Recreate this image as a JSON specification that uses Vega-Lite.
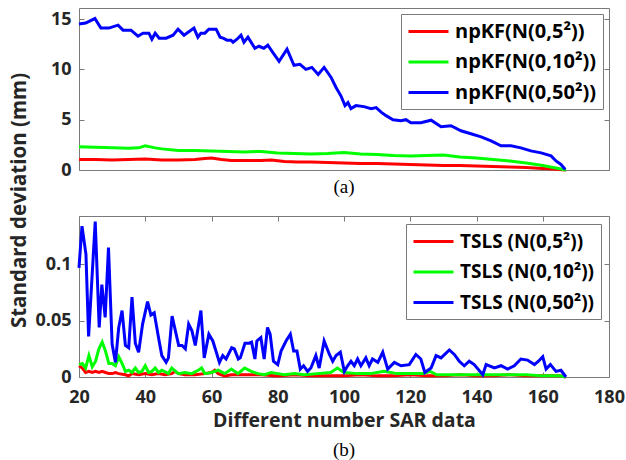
{
  "$schema": "https://vega.github.io/schema/vega-lite/v6.json",
  "background": "white",
  "padding": {"left": 8, "top": 7, "right": 5, "bottom": 5},
  "bounds": "flush",
  "spacing": 46,
  "config": {
    "view": {"stroke": "#7a7a7a", "strokeWidth": 1},
    "axis": {
      "domain": false, "grid": false,
      "labelFont": "Open Sans", "labelFontWeight": "bold", "labelFontSize": 18, "labelColor": "#262626",
      "labelFlush": false, "labelOverlap": false,
      "tickColor": "#7a7a7a", "tickSize": -5,
      "titleFont": "Open Sans", "titleFontWeight": "bold", "titleFontSize": 19.5, "titleColor": "#262626"
    },
    "legend": {
      "title": null, "orient": "top-right", "offset": 6, "padding": 6,
      "strokeColor": "#7a7a7a", "fillColor": "white",
      "symbolType": "M-2,0H2", "symbolSize": 400, "symbolStrokeWidth": 3, "symbolOffset": 10,
      "labelFont": "Open Sans", "labelFontWeight": "bold", "labelFontSize": 19, "labelColor": "black",
      "labelLimit": 300, "rowPadding": 8.5, "labelOffset": 15
    },
    "title": {"font": "Liberation Serif", "fontSize": 19, "fontWeight": "normal", "color": "black", "orient": "bottom"}
  },
  "resolve": {"scale": {"color": "independent"}},
  "datasets": {
    "top": [
      {"x":20,"y":1.05,"s":"npKF(N(0,5²))"},{"x":25,"y":1.05,"s":"npKF(N(0,5²))"},{"x":30,"y":1.0,"s":"npKF(N(0,5²))"},{"x":35,"y":1.05,"s":"npKF(N(0,5²))"},{"x":40,"y":1.1,"s":"npKF(N(0,5²))"},{"x":45,"y":1.0,"s":"npKF(N(0,5²))"},{"x":50,"y":1.0,"s":"npKF(N(0,5²))"},{"x":55,"y":1.05,"s":"npKF(N(0,5²))"},{"x":58,"y":1.15,"s":"npKF(N(0,5²))"},{"x":60,"y":1.2,"s":"npKF(N(0,5²))"},{"x":63,"y":1.05,"s":"npKF(N(0,5²))"},{"x":66,"y":0.95,"s":"npKF(N(0,5²))"},{"x":70,"y":0.95,"s":"npKF(N(0,5²))"},{"x":75,"y":0.95,"s":"npKF(N(0,5²))"},{"x":78,"y":1.0,"s":"npKF(N(0,5²))"},{"x":82,"y":0.85,"s":"npKF(N(0,5²))"},{"x":86,"y":0.8,"s":"npKF(N(0,5²))"},{"x":90,"y":0.8,"s":"npKF(N(0,5²))"},{"x":95,"y":0.75,"s":"npKF(N(0,5²))"},{"x":100,"y":0.7,"s":"npKF(N(0,5²))"},{"x":105,"y":0.65,"s":"npKF(N(0,5²))"},{"x":110,"y":0.65,"s":"npKF(N(0,5²))"},{"x":115,"y":0.6,"s":"npKF(N(0,5²))"},{"x":120,"y":0.55,"s":"npKF(N(0,5²))"},{"x":125,"y":0.5,"s":"npKF(N(0,5²))"},{"x":130,"y":0.45,"s":"npKF(N(0,5²))"},{"x":135,"y":0.45,"s":"npKF(N(0,5²))"},{"x":140,"y":0.4,"s":"npKF(N(0,5²))"},{"x":145,"y":0.35,"s":"npKF(N(0,5²))"},{"x":150,"y":0.3,"s":"npKF(N(0,5²))"},{"x":155,"y":0.25,"s":"npKF(N(0,5²))"},{"x":160,"y":0.15,"s":"npKF(N(0,5²))"},{"x":164,"y":0.08,"s":"npKF(N(0,5²))"},{"x":167,"y":0.0,"s":"npKF(N(0,5²))"},
      {"x":20,"y":2.3,"s":"npKF(N(0,10²))"},{"x":25,"y":2.25,"s":"npKF(N(0,10²))"},{"x":30,"y":2.2,"s":"npKF(N(0,10²))"},{"x":35,"y":2.15,"s":"npKF(N(0,10²))"},{"x":38,"y":2.2,"s":"npKF(N(0,10²))"},{"x":40,"y":2.4,"s":"npKF(N(0,10²))"},{"x":43,"y":2.2,"s":"npKF(N(0,10²))"},{"x":45,"y":2.1,"s":"npKF(N(0,10²))"},{"x":50,"y":1.95,"s":"npKF(N(0,10²))"},{"x":55,"y":1.95,"s":"npKF(N(0,10²))"},{"x":60,"y":1.9,"s":"npKF(N(0,10²))"},{"x":65,"y":1.85,"s":"npKF(N(0,10²))"},{"x":70,"y":1.8,"s":"npKF(N(0,10²))"},{"x":75,"y":1.85,"s":"npKF(N(0,10²))"},{"x":80,"y":1.7,"s":"npKF(N(0,10²))"},{"x":85,"y":1.65,"s":"npKF(N(0,10²))"},{"x":90,"y":1.6,"s":"npKF(N(0,10²))"},{"x":95,"y":1.65,"s":"npKF(N(0,10²))"},{"x":100,"y":1.75,"s":"npKF(N(0,10²))"},{"x":105,"y":1.6,"s":"npKF(N(0,10²))"},{"x":110,"y":1.55,"s":"npKF(N(0,10²))"},{"x":115,"y":1.45,"s":"npKF(N(0,10²))"},{"x":120,"y":1.4,"s":"npKF(N(0,10²))"},{"x":125,"y":1.45,"s":"npKF(N(0,10²))"},{"x":130,"y":1.5,"s":"npKF(N(0,10²))"},{"x":135,"y":1.3,"s":"npKF(N(0,10²))"},{"x":140,"y":1.2,"s":"npKF(N(0,10²))"},{"x":145,"y":1.05,"s":"npKF(N(0,10²))"},{"x":150,"y":0.9,"s":"npKF(N(0,10²))"},{"x":155,"y":0.7,"s":"npKF(N(0,10²))"},{"x":160,"y":0.45,"s":"npKF(N(0,10²))"},{"x":164,"y":0.2,"s":"npKF(N(0,10²))"},{"x":167,"y":0.0,"s":"npKF(N(0,10²))"},
      {"x":20,"y":14.5,"s":"npKF(N(0,50²))"},{"x":22,"y":14.6,"s":"npKF(N(0,50²))"},{"x":24.8,"y":15.05,"s":"npKF(N(0,50²))"},{"x":26.6,"y":14.1,"s":"npKF(N(0,50²))"},{"x":29,"y":14.1,"s":"npKF(N(0,50²))"},{"x":31.8,"y":14.4,"s":"npKF(N(0,50²))"},{"x":33.3,"y":13.9,"s":"npKF(N(0,50²))"},{"x":35.7,"y":13.9,"s":"npKF(N(0,50²))"},{"x":37.8,"y":13.3,"s":"npKF(N(0,50²))"},{"x":39.3,"y":13.6,"s":"npKF(N(0,50²))"},{"x":41.1,"y":13.6,"s":"npKF(N(0,50²))"},{"x":42,"y":13.0,"s":"npKF(N(0,50²))"},{"x":43,"y":13.6,"s":"npKF(N(0,50²))"},{"x":44.2,"y":13.1,"s":"npKF(N(0,50²))"},{"x":46.3,"y":13.1,"s":"npKF(N(0,50²))"},{"x":48.4,"y":13.4,"s":"npKF(N(0,50²))"},{"x":49.9,"y":14.0,"s":"npKF(N(0,50²))"},{"x":51.7,"y":13.4,"s":"npKF(N(0,50²))"},{"x":54.7,"y":14.1,"s":"npKF(N(0,50²))"},{"x":55.9,"y":13.2,"s":"npKF(N(0,50²))"},{"x":56.8,"y":13.6,"s":"npKF(N(0,50²))"},{"x":58,"y":13.6,"s":"npKF(N(0,50²))"},{"x":59.2,"y":14.0,"s":"npKF(N(0,50²))"},{"x":61.4,"y":14.0,"s":"npKF(N(0,50²))"},{"x":62.6,"y":13.2,"s":"npKF(N(0,50²))"},{"x":63.5,"y":13.1,"s":"npKF(N(0,50²))"},{"x":64.7,"y":12.9,"s":"npKF(N(0,50²))"},{"x":65.9,"y":12.9,"s":"npKF(N(0,50²))"},{"x":66.5,"y":12.7,"s":"npKF(N(0,50²))"},{"x":67.7,"y":13.0,"s":"npKF(N(0,50²))"},{"x":68.9,"y":13.4,"s":"npKF(N(0,50²))"},{"x":69.8,"y":12.7,"s":"npKF(N(0,50²))"},{"x":71,"y":13.2,"s":"npKF(N(0,50²))"},{"x":73.1,"y":12.1,"s":"npKF(N(0,50²))"},{"x":74.3,"y":12.3,"s":"npKF(N(0,50²))"},{"x":75.8,"y":12.1,"s":"npKF(N(0,50²))"},{"x":77,"y":12.4,"s":"npKF(N(0,50²))"},{"x":78.6,"y":11.65,"s":"npKF(N(0,50²))"},{"x":80.4,"y":10.8,"s":"npKF(N(0,50²))"},{"x":82.8,"y":12.0,"s":"npKF(N(0,50²))"},{"x":84.9,"y":10.4,"s":"npKF(N(0,50²))"},{"x":86.7,"y":10.5,"s":"npKF(N(0,50²))"},{"x":88.5,"y":10.0,"s":"npKF(N(0,50²))"},{"x":90.3,"y":10.2,"s":"npKF(N(0,50²))"},{"x":92.2,"y":9.5,"s":"npKF(N(0,50²))"},{"x":94,"y":10.2,"s":"npKF(N(0,50²))"},{"x":96.1,"y":9.2,"s":"npKF(N(0,50²))"},{"x":97.6,"y":8.2,"s":"npKF(N(0,50²))"},{"x":99.1,"y":7.35,"s":"npKF(N(0,50²))"},{"x":100.3,"y":6.4,"s":"npKF(N(0,50²))"},{"x":101.2,"y":6.7,"s":"npKF(N(0,50²))"},{"x":102.1,"y":6.1,"s":"npKF(N(0,50²))"},{"x":103.6,"y":6.4,"s":"npKF(N(0,50²))"},{"x":106,"y":6.3,"s":"npKF(N(0,50²))"},{"x":108.2,"y":6.1,"s":"npKF(N(0,50²))"},{"x":109.7,"y":6.2,"s":"npKF(N(0,50²))"},{"x":111.2,"y":5.75,"s":"npKF(N(0,50²))"},{"x":112.7,"y":5.4,"s":"npKF(N(0,50²))"},{"x":114.8,"y":5.0,"s":"npKF(N(0,50²))"},{"x":117.2,"y":4.9,"s":"npKF(N(0,50²))"},{"x":118.7,"y":5.0,"s":"npKF(N(0,50²))"},{"x":120.2,"y":4.7,"s":"npKF(N(0,50²))"},{"x":123.2,"y":4.7,"s":"npKF(N(0,50²))"},{"x":126.3,"y":4.95,"s":"npKF(N(0,50²))"},{"x":129.3,"y":4.3,"s":"npKF(N(0,50²))"},{"x":132.3,"y":4.4,"s":"npKF(N(0,50²))"},{"x":135.3,"y":3.9,"s":"npKF(N(0,50²))"},{"x":138.3,"y":3.6,"s":"npKF(N(0,50²))"},{"x":141.4,"y":3.3,"s":"npKF(N(0,50²))"},{"x":144.4,"y":2.9,"s":"npKF(N(0,50²))"},{"x":147.4,"y":2.4,"s":"npKF(N(0,50²))"},{"x":150.4,"y":2.4,"s":"npKF(N(0,50²))"},{"x":153.4,"y":2.2,"s":"npKF(N(0,50²))"},{"x":156.4,"y":1.9,"s":"npKF(N(0,50²))"},{"x":159.5,"y":1.7,"s":"npKF(N(0,50²))"},{"x":162.5,"y":1.4,"s":"npKF(N(0,50²))"},{"x":164,"y":0.9,"s":"npKF(N(0,50²))"},{"x":165.5,"y":0.55,"s":"npKF(N(0,50²))"},{"x":166.8,"y":0.05,"s":"npKF(N(0,50²))"}
    ],
    "bottom": [
      {"x":20,"y":0.010,"s":"TSLS (N(0,5²))"},{"x":21,"y":0.008,"s":"TSLS (N(0,5²))"},{"x":22,"y":0.004,"s":"TSLS (N(0,5²))"},{"x":23,"y":0.005,"s":"TSLS (N(0,5²))"},{"x":24,"y":0.004,"s":"TSLS (N(0,5²))"},{"x":25,"y":0.005,"s":"TSLS (N(0,5²))"},{"x":26,"y":0.004,"s":"TSLS (N(0,5²))"},{"x":27,"y":0.005,"s":"TSLS (N(0,5²))"},{"x":28,"y":0.004,"s":"TSLS (N(0,5²))"},{"x":29,"y":0.003,"s":"TSLS (N(0,5²))"},{"x":30,"y":0.003,"s":"TSLS (N(0,5²))"},{"x":31,"y":0.004,"s":"TSLS (N(0,5²))"},{"x":32,"y":0.003,"s":"TSLS (N(0,5²))"},{"x":34,"y":0.002,"s":"TSLS (N(0,5²))"},{"x":35,"y":0.001,"s":"TSLS (N(0,5²))"},{"x":36,"y":0.003,"s":"TSLS (N(0,5²))"},{"x":38,"y":0.002,"s":"TSLS (N(0,5²))"},{"x":40,"y":0.003,"s":"TSLS (N(0,5²))"},{"x":42,"y":0.002,"s":"TSLS (N(0,5²))"},{"x":44,"y":0.003,"s":"TSLS (N(0,5²))"},{"x":46,"y":0.002,"s":"TSLS (N(0,5²))"},{"x":48,"y":0.003,"s":"TSLS (N(0,5²))"},{"x":49,"y":0.005,"s":"TSLS (N(0,5²))"},{"x":50,"y":0.003,"s":"TSLS (N(0,5²))"},{"x":52,"y":0.002,"s":"TSLS (N(0,5²))"},{"x":55,"y":0.002,"s":"TSLS (N(0,5²))"},{"x":58,"y":0.003,"s":"TSLS (N(0,5²))"},{"x":60,"y":0.004,"s":"TSLS (N(0,5²))"},{"x":61,"y":0.006,"s":"TSLS (N(0,5²))"},{"x":62,"y":0.003,"s":"TSLS (N(0,5²))"},{"x":64,"y":0.001,"s":"TSLS (N(0,5²))"},{"x":66,"y":0.002,"s":"TSLS (N(0,5²))"},{"x":70,"y":0.002,"s":"TSLS (N(0,5²))"},{"x":75,"y":0.002,"s":"TSLS (N(0,5²))"},{"x":80,"y":0.001,"s":"TSLS (N(0,5²))"},{"x":85,"y":0.002,"s":"TSLS (N(0,5²))"},{"x":90,"y":0.001,"s":"TSLS (N(0,5²))"},{"x":95,"y":0.001,"s":"TSLS (N(0,5²))"},{"x":100,"y":0.001,"s":"TSLS (N(0,5²))"},{"x":105,"y":0.002,"s":"TSLS (N(0,5²))"},{"x":110,"y":0.001,"s":"TSLS (N(0,5²))"},{"x":115,"y":0.001,"s":"TSLS (N(0,5²))"},{"x":120,"y":0.002,"s":"TSLS (N(0,5²))"},{"x":125,"y":0.001,"s":"TSLS (N(0,5²))"},{"x":130,"y":0.001,"s":"TSLS (N(0,5²))"},{"x":135,"y":0.002,"s":"TSLS (N(0,5²))"},{"x":140,"y":0.001,"s":"TSLS (N(0,5²))"},{"x":145,"y":0.001,"s":"TSLS (N(0,5²))"},{"x":150,"y":0.002,"s":"TSLS (N(0,5²))"},{"x":155,"y":0.001,"s":"TSLS (N(0,5²))"},{"x":160,"y":0.001,"s":"TSLS (N(0,5²))"},{"x":165,"y":0.001,"s":"TSLS (N(0,5²))"},{"x":167,"y":0.0,"s":"TSLS (N(0,5²))"},
      {"x":20,"y":0.011,"s":"TSLS (N(0,10²))"},{"x":21,"y":0.012,"s":"TSLS (N(0,10²))"},{"x":22,"y":0.008,"s":"TSLS (N(0,10²))"},{"x":23,"y":0.019,"s":"TSLS (N(0,10²))"},{"x":24,"y":0.009,"s":"TSLS (N(0,10²))"},{"x":25,"y":0.014,"s":"TSLS (N(0,10²))"},{"x":26,"y":0.025,"s":"TSLS (N(0,10²))"},{"x":27,"y":0.031,"s":"TSLS (N(0,10²))"},{"x":28,"y":0.023,"s":"TSLS (N(0,10²))"},{"x":29,"y":0.012,"s":"TSLS (N(0,10²))"},{"x":30,"y":0.012,"s":"TSLS (N(0,10²))"},{"x":31,"y":0.010,"s":"TSLS (N(0,10²))"},{"x":32,"y":0.018,"s":"TSLS (N(0,10²))"},{"x":33,"y":0.012,"s":"TSLS (N(0,10²))"},{"x":34,"y":0.005,"s":"TSLS (N(0,10²))"},{"x":35,"y":0.006,"s":"TSLS (N(0,10²))"},{"x":36,"y":0.004,"s":"TSLS (N(0,10²))"},{"x":37,"y":0.008,"s":"TSLS (N(0,10²))"},{"x":38,"y":0.004,"s":"TSLS (N(0,10²))"},{"x":39,"y":0.005,"s":"TSLS (N(0,10²))"},{"x":40,"y":0.010,"s":"TSLS (N(0,10²))"},{"x":41,"y":0.004,"s":"TSLS (N(0,10²))"},{"x":42,"y":0.005,"s":"TSLS (N(0,10²))"},{"x":43,"y":0.008,"s":"TSLS (N(0,10²))"},{"x":44,"y":0.004,"s":"TSLS (N(0,10²))"},{"x":45,"y":0.006,"s":"TSLS (N(0,10²))"},{"x":47,"y":0.003,"s":"TSLS (N(0,10²))"},{"x":48,"y":0.008,"s":"TSLS (N(0,10²))"},{"x":50,"y":0.003,"s":"TSLS (N(0,10²))"},{"x":52,"y":0.004,"s":"TSLS (N(0,10²))"},{"x":54,"y":0.003,"s":"TSLS (N(0,10²))"},{"x":56,"y":0.006,"s":"TSLS (N(0,10²))"},{"x":57,"y":0.008,"s":"TSLS (N(0,10²))"},{"x":58,"y":0.003,"s":"TSLS (N(0,10²))"},{"x":60,"y":0.004,"s":"TSLS (N(0,10²))"},{"x":62,"y":0.006,"s":"TSLS (N(0,10²))"},{"x":64,"y":0.003,"s":"TSLS (N(0,10²))"},{"x":66,"y":0.007,"s":"TSLS (N(0,10²))"},{"x":68,"y":0.003,"s":"TSLS (N(0,10²))"},{"x":70,"y":0.008,"s":"TSLS (N(0,10²))"},{"x":72,"y":0.005,"s":"TSLS (N(0,10²))"},{"x":74,"y":0.003,"s":"TSLS (N(0,10²))"},{"x":76,"y":0.002,"s":"TSLS (N(0,10²))"},{"x":78,"y":0.004,"s":"TSLS (N(0,10²))"},{"x":80,"y":0.003,"s":"TSLS (N(0,10²))"},{"x":82,"y":0.002,"s":"TSLS (N(0,10²))"},{"x":85,"y":0.003,"s":"TSLS (N(0,10²))"},{"x":88,"y":0.002,"s":"TSLS (N(0,10²))"},{"x":92,"y":0.003,"s":"TSLS (N(0,10²))"},{"x":96,"y":0.004,"s":"TSLS (N(0,10²))"},{"x":98,"y":0.008,"s":"TSLS (N(0,10²))"},{"x":100,"y":0.004,"s":"TSLS (N(0,10²))"},{"x":104,"y":0.003,"s":"TSLS (N(0,10²))"},{"x":108,"y":0.003,"s":"TSLS (N(0,10²))"},{"x":112,"y":0.005,"s":"TSLS (N(0,10²))"},{"x":116,"y":0.003,"s":"TSLS (N(0,10²))"},{"x":120,"y":0.003,"s":"TSLS (N(0,10²))"},{"x":124,"y":0.003,"s":"TSLS (N(0,10²))"},{"x":126,"y":0.005,"s":"TSLS (N(0,10²))"},{"x":128,"y":0.002,"s":"TSLS (N(0,10²))"},{"x":132,"y":0.002,"s":"TSLS (N(0,10²))"},{"x":136,"y":0.002,"s":"TSLS (N(0,10²))"},{"x":140,"y":0.002,"s":"TSLS (N(0,10²))"},{"x":145,"y":0.002,"s":"TSLS (N(0,10²))"},{"x":150,"y":0.002,"s":"TSLS (N(0,10²))"},{"x":155,"y":0.002,"s":"TSLS (N(0,10²))"},{"x":160,"y":0.001,"s":"TSLS (N(0,10²))"},{"x":165,"y":0.001,"s":"TSLS (N(0,10²))"},{"x":167,"y":0.0,"s":"TSLS (N(0,10²))"},
      {"x":20,"y":0.097,"s":"TSLS (N(0,50²))"},{"x":20.9,"y":0.134,"s":"TSLS (N(0,50²))"},{"x":22.1,"y":0.109,"s":"TSLS (N(0,50²))"},{"x":22.9,"y":0.036,"s":"TSLS (N(0,50²))"},{"x":24.9,"y":0.138,"s":"TSLS (N(0,50²))"},{"x":26.1,"y":0.044,"s":"TSLS (N(0,50²))"},{"x":26.9,"y":0.082,"s":"TSLS (N(0,50²))"},{"x":27.9,"y":0.053,"s":"TSLS (N(0,50²))"},{"x":28.9,"y":0.115,"s":"TSLS (N(0,50²))"},{"x":30,"y":0.029,"s":"TSLS (N(0,50²))"},{"x":31,"y":0.013,"s":"TSLS (N(0,50²))"},{"x":32,"y":0.044,"s":"TSLS (N(0,50²))"},{"x":33,"y":0.059,"s":"TSLS (N(0,50²))"},{"x":34,"y":0.028,"s":"TSLS (N(0,50²))"},{"x":35,"y":0.026,"s":"TSLS (N(0,50²))"},{"x":36,"y":0.071,"s":"TSLS (N(0,50²))"},{"x":37,"y":0.030,"s":"TSLS (N(0,50²))"},{"x":38,"y":0.022,"s":"TSLS (N(0,50²))"},{"x":39.2,"y":0.047,"s":"TSLS (N(0,50²))"},{"x":40.7,"y":0.067,"s":"TSLS (N(0,50²))"},{"x":41.7,"y":0.055,"s":"TSLS (N(0,50²))"},{"x":42.7,"y":0.057,"s":"TSLS (N(0,50²))"},{"x":44,"y":0.035,"s":"TSLS (N(0,50²))"},{"x":45,"y":0.019,"s":"TSLS (N(0,50²))"},{"x":46.3,"y":0.013,"s":"TSLS (N(0,50²))"},{"x":47,"y":0.017,"s":"TSLS (N(0,50²))"},{"x":48.1,"y":0.054,"s":"TSLS (N(0,50²))"},{"x":49.1,"y":0.041,"s":"TSLS (N(0,50²))"},{"x":50.1,"y":0.028,"s":"TSLS (N(0,50²))"},{"x":51.1,"y":0.028,"s":"TSLS (N(0,50²))"},{"x":52.1,"y":0.025,"s":"TSLS (N(0,50²))"},{"x":53.1,"y":0.047,"s":"TSLS (N(0,50²))"},{"x":54.1,"y":0.041,"s":"TSLS (N(0,50²))"},{"x":55.1,"y":0.028,"s":"TSLS (N(0,50²))"},{"x":56.8,"y":0.059,"s":"TSLS (N(0,50²))"},{"x":57.8,"y":0.017,"s":"TSLS (N(0,50²))"},{"x":59.2,"y":0.038,"s":"TSLS (N(0,50²))"},{"x":60.4,"y":0.032,"s":"TSLS (N(0,50²))"},{"x":62.4,"y":0.013,"s":"TSLS (N(0,50²))"},{"x":63.4,"y":0.019,"s":"TSLS (N(0,50²))"},{"x":64.4,"y":0.016,"s":"TSLS (N(0,50²))"},{"x":66.1,"y":0.026,"s":"TSLS (N(0,50²))"},{"x":66.9,"y":0.025,"s":"TSLS (N(0,50²))"},{"x":68.1,"y":0.016,"s":"TSLS (N(0,50²))"},{"x":68.7,"y":0.017,"s":"TSLS (N(0,50²))"},{"x":70.1,"y":0.030,"s":"TSLS (N(0,50²))"},{"x":71.4,"y":0.030,"s":"TSLS (N(0,50²))"},{"x":72.1,"y":0.031,"s":"TSLS (N(0,50²))"},{"x":73.1,"y":0.016,"s":"TSLS (N(0,50²))"},{"x":73.7,"y":0.032,"s":"TSLS (N(0,50²))"},{"x":74.9,"y":0.035,"s":"TSLS (N(0,50²))"},{"x":75.9,"y":0.016,"s":"TSLS (N(0,50²))"},{"x":76.9,"y":0.044,"s":"TSLS (N(0,50²))"},{"x":77.7,"y":0.038,"s":"TSLS (N(0,50²))"},{"x":78.7,"y":0.014,"s":"TSLS (N(0,50²))"},{"x":80,"y":0.011,"s":"TSLS (N(0,50²))"},{"x":81,"y":0.023,"s":"TSLS (N(0,50²))"},{"x":82.5,"y":0.032,"s":"TSLS (N(0,50²))"},{"x":83.8,"y":0.038,"s":"TSLS (N(0,50²))"},{"x":84.8,"y":0.023,"s":"TSLS (N(0,50²))"},{"x":85.8,"y":0.023,"s":"TSLS (N(0,50²))"},{"x":86.8,"y":0.007,"s":"TSLS (N(0,50²))"},{"x":87.8,"y":0.010,"s":"TSLS (N(0,50²))"},{"x":89,"y":0.005,"s":"TSLS (N(0,50²))"},{"x":90,"y":0.008,"s":"TSLS (N(0,50²))"},{"x":91.5,"y":0.019,"s":"TSLS (N(0,50²))"},{"x":92.5,"y":0.008,"s":"TSLS (N(0,50²))"},{"x":94,"y":0.032,"s":"TSLS (N(0,50²))"},{"x":95.6,"y":0.020,"s":"TSLS (N(0,50²))"},{"x":96.6,"y":0.014,"s":"TSLS (N(0,50²))"},{"x":97.6,"y":0.019,"s":"TSLS (N(0,50²))"},{"x":98.9,"y":0.022,"s":"TSLS (N(0,50²))"},{"x":100.1,"y":0.005,"s":"TSLS (N(0,50²))"},{"x":101.1,"y":0.010,"s":"TSLS (N(0,50²))"},{"x":102.1,"y":0.014,"s":"TSLS (N(0,50²))"},{"x":103.1,"y":0.010,"s":"TSLS (N(0,50²))"},{"x":104.1,"y":0.016,"s":"TSLS (N(0,50²))"},{"x":105.1,"y":0.010,"s":"TSLS (N(0,50²))"},{"x":106.6,"y":0.017,"s":"TSLS (N(0,50²))"},{"x":107.6,"y":0.010,"s":"TSLS (N(0,50²))"},{"x":108.6,"y":0.016,"s":"TSLS (N(0,50²))"},{"x":110.2,"y":0.013,"s":"TSLS (N(0,50²))"},{"x":111.7,"y":0.022,"s":"TSLS (N(0,50²))"},{"x":113.2,"y":0.007,"s":"TSLS (N(0,50²))"},{"x":115.2,"y":0.013,"s":"TSLS (N(0,50²))"},{"x":117.2,"y":0.010,"s":"TSLS (N(0,50²))"},{"x":119.7,"y":0.011,"s":"TSLS (N(0,50²))"},{"x":121.7,"y":0.020,"s":"TSLS (N(0,50²))"},{"x":123.2,"y":0.016,"s":"TSLS (N(0,50²))"},{"x":124.4,"y":0.004,"s":"TSLS (N(0,50²))"},{"x":126.3,"y":0.008,"s":"TSLS (N(0,50²))"},{"x":127.8,"y":0.019,"s":"TSLS (N(0,50²))"},{"x":129.3,"y":0.017,"s":"TSLS (N(0,50²))"},{"x":131.8,"y":0.024,"s":"TSLS (N(0,50²))"},{"x":133.3,"y":0.020,"s":"TSLS (N(0,50²))"},{"x":134.8,"y":0.014,"s":"TSLS (N(0,50²))"},{"x":136.3,"y":0.010,"s":"TSLS (N(0,50²))"},{"x":137.8,"y":0.014,"s":"TSLS (N(0,50²))"},{"x":139.3,"y":0.011,"s":"TSLS (N(0,50²))"},{"x":141.9,"y":0.002,"s":"TSLS (N(0,50²))"},{"x":142.9,"y":0.011,"s":"TSLS (N(0,50²))"},{"x":145.4,"y":0.008,"s":"TSLS (N(0,50²))"},{"x":147.4,"y":0.010,"s":"TSLS (N(0,50²))"},{"x":149.4,"y":0.007,"s":"TSLS (N(0,50²))"},{"x":151.4,"y":0.010,"s":"TSLS (N(0,50²))"},{"x":153.4,"y":0.016,"s":"TSLS (N(0,50²))"},{"x":155.4,"y":0.015,"s":"TSLS (N(0,50²))"},{"x":157.5,"y":0.011,"s":"TSLS (N(0,50²))"},{"x":158.7,"y":0.014,"s":"TSLS (N(0,50²))"},{"x":160,"y":0.018,"s":"TSLS (N(0,50²))"},{"x":161,"y":0.007,"s":"TSLS (N(0,50²))"},{"x":162.3,"y":0.011,"s":"TSLS (N(0,50²))"},{"x":164,"y":0.005,"s":"TSLS (N(0,50²))"},{"x":165.5,"y":0.006,"s":"TSLS (N(0,50²))"},{"x":167,"y":0.0,"s":"TSLS (N(0,50²))"}
    ]
  },
  "vconcat": [
    {
      "width": 530, "height": 162,
      "data": {"name": "top"},
      "title": {"text": "(a)", "offset": -1},
      "layer": [
        {
          "mark": {"type": "line", "strokeWidth": 3},
          "encoding": {
            "x": {"field": "x", "type": "quantitative", "scale": {"domain": [20, 180], "nice": false, "zero": false},
                  "axis": {"orient": "bottom", "labels": false, "ticks": false, "title": null}},
            "y": {"field": "y", "type": "quantitative", "scale": {"domain": [0, 16.1], "nice": false},
                  "axis": {"orient": "left", "values": [0, 5, 10, 15], "labelPadding": 13, "title": null}},
            "color": {"field": "s", "type": "nominal",
                      "scale": {"domain": ["npKF(N(0,5²))", "npKF(N(0,10²))", "npKF(N(0,50²))"], "range": ["#ff0000", "#00ff00", "#0000ff"]},
                      "legend": {"labelFontSize": 20}}
          }
        },
        {
          "mark": {"type": "line", "opacity": 0},
          "encoding": {
            "x": {"field": "x", "type": "quantitative", "scale": {"domain": [20, 180], "nice": false, "zero": false}, "axis": null},
            "y": {"field": "y", "type": "quantitative", "scale": {"domain": [0, 16.1], "nice": false},
                  "axis": {"orient": "right", "values": [0, 5, 10, 15], "labels": false, "title": null}}
          }
        }
      ],
      "resolve": {"axis": {"x": "independent", "y": "independent"}}
    },
    {
      "width": 530, "height": 161,
      "data": {"name": "bottom"},
      "title": {"text": "(b)", "offset": 11},
      "layer": [
        {
          "mark": {"type": "line", "strokeWidth": 3},
          "encoding": {
            "x": {"field": "x", "type": "quantitative", "scale": {"domain": [20, 180], "nice": false, "zero": false},
                  "axis": {"orient": "bottom", "values": [20, 40, 60, 80, 100, 120, 140, 160, 180], "labelPadding": 16,
                           "title": "Different number SAR data", "titlePadding": 5}},
            "y": {"field": "y", "type": "quantitative", "scale": {"domain": [0, 0.143], "nice": false},
                  "axis": {"orient": "left", "values": [0, 0.05, 0.1], "format": "~g", "labelPadding": 13,
                           "title": "Standard deviation  (mm)", "titleFontSize": 20.5, "titleX": -60, "titleY": -16, "titleBaseline": "middle", "titleAlign": "center"}},
            "color": {"field": "s", "type": "nominal",
                      "scale": {"domain": ["TSLS (N(0,5²))", "TSLS (N(0,10²))", "TSLS (N(0,50²))"], "range": ["#ff0000", "#00ff00", "#0000ff"]},
                      "legend": {"offset": 8}}
          }
        },
        {
          "mark": {"type": "line", "opacity": 0},
          "encoding": {
            "x": {"field": "x", "type": "quantitative", "scale": {"domain": [20, 180], "nice": false, "zero": false},
                  "axis": {"orient": "top", "values": [20, 40, 60, 80, 100, 120, 140, 160, 180], "labels": false, "title": null}},
            "y": {"field": "y", "type": "quantitative", "scale": {"domain": [0, 0.143], "nice": false},
                  "axis": {"orient": "right", "values": [0, 0.05, 0.1], "labels": false, "title": null}}
          }
        }
      ],
      "resolve": {"axis": {"x": "independent", "y": "independent"}}
    }
  ]
}
